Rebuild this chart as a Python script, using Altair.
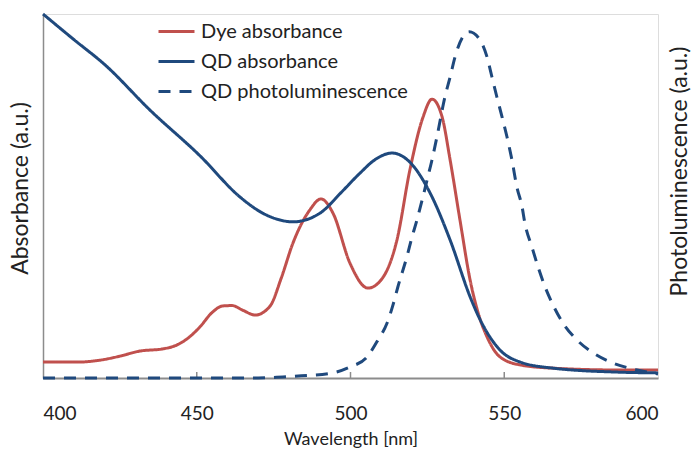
import altair as alt
import pandas as pd

# Wavelength grid and values (normalised arbitrary units)
wl_dye = [400, 412, 418.5, 425, 431.5, 439, 443.6, 447.5, 451, 455, 458.5, 461.5, 465, 469, 473.8,
          477.5, 481.3, 486.8, 490.4, 494.3, 499.8, 505.7, 510.6, 515.1, 519.3, 523.6, 526.5,
          529.8, 532.4, 535.6, 538.9, 541.5, 544.4, 548.6, 555.1, 565.9, 587.6, 600]
dye = [0.044, 0.044, 0.049, 0.060, 0.074, 0.080, 0.091, 0.112, 0.140, 0.180, 0.198, 0.199, 0.186, 0.173, 0.197,
       0.275, 0.371, 0.462, 0.492, 0.453, 0.316, 0.247, 0.277, 0.379, 0.571, 0.717, 0.766,
       0.717, 0.599, 0.434, 0.269, 0.179, 0.113, 0.058, 0.036, 0.027, 0.022, 0.022]

wl_qd = [400, 410, 420.2, 434.8, 451.1, 464.1, 471, 477.1, 481.3, 490.1, 497, 503.1, 508, 513.5,
         519.3, 525.9, 532.4, 538.9, 541.1, 548.6, 555.1, 565.9, 587.6, 600]
qd = [1.0, 0.93, 0.86, 0.736, 0.61, 0.497, 0.455, 0.434, 0.429, 0.453, 0.51, 0.563, 0.60, 0.618,
      0.593, 0.508, 0.379, 0.223, 0.179, 0.077, 0.044, 0.027, 0.016, 0.014]

wl_pl = [400, 470, 478, 484, 494.3, 499.8, 505.4, 508.9, 511.9, 513.8, 515.4, 518.4, 520, 521.6,
         523.3, 524.9, 526.5, 528.1, 530.7, 532.4, 534, 536.3, 538.6, 542.1, 544.4, 546, 547.6,
         549.3, 550.9, 552.5, 554.1, 555.8, 556.7, 559, 561, 563.3, 565.9, 569.1, 573.7, 578.9,
         585.4, 593.2, 600]
pl = [0, 0, 0.003, 0.006, 0.014, 0.030, 0.058, 0.104, 0.151, 0.200, 0.250, 0.335, 0.387, 0.434,
      0.489, 0.544, 0.599, 0.662, 0.772, 0.827, 0.882, 0.934, 0.951, 0.929, 0.882, 0.827, 0.772,
      0.717, 0.662, 0.599, 0.525, 0.470, 0.426, 0.360, 0.305, 0.250, 0.200, 0.151, 0.104, 0.069,
      0.041, 0.022, 0.011]

series = ["Dye absorbance", "QD absorbance", "QD photoluminescence"]
colors = ["#C0504D", "#1F497D", "#1F497D"]
dashes = [[1, 0], [1, 0], [12, 9]]
x_ticks = [400, 450, 500, 550, 600]
inner_ticks = [450, 500, 550]

abs_df = pd.DataFrame(
    [{"wl": w, "v": v, "s": series[0]} for w, v in zip(wl_dye, dye)]
    + [{"wl": w, "v": v, "s": series[1]} for w, v in zip(wl_qd, qd)]
)
pl_df = pd.DataFrame([{"wl": w, "v": v, "s": series[2]} for w, v in zip(wl_pl, pl)])
tick_df = pd.DataFrame({"wl": inner_ticks})

FONT = "Lato"
GRAY = "#8c8c8c"
TXT = "#222222"

legend = alt.Legend(
    title=None, orient="none", legendX=114, legendY=-2,
    symbolType="stroke", symbolSize=1296, symbolStrokeWidth=3,
    labelFont=FONT, labelFontSize=20, labelColor=TXT, labelOffset=5, labelLimit=0,
    rowPadding=-8.5, padding=0,
)

xscale = alt.Scale(domain=[400, 600], nice=False, zero=False)
xenc = alt.X(
    "wl:Q",
    scale=xscale,
    axis=alt.Axis(
        values=x_ticks, ticks=False, grid=False, format="d",
        domainColor=GRAY, domainWidth=2,
        labelFont=FONT, labelFontSize=19, labelColor=TXT, labelPadding=26,
        title="Wavelength [nm]", titleFont=FONT, titleFontSize=18, titleFontWeight="normal",
        titleColor=TXT, titleBaseline="alphabetic", titleY=66,
    ),
)

color = alt.Color("s:N", scale=alt.Scale(domain=series, range=colors), legend=legend)
dash = alt.StrokeDash("s:N", scale=alt.Scale(domain=series, range=dashes), legend=legend)

abs_layer = alt.Chart(abs_df).mark_line(strokeWidth=3, interpolate="monotone", clip=False).encode(
    x=xenc,
    y=alt.Y("v:Q", scale=alt.Scale(domain=[0, 1], nice=False),
            axis=alt.Axis(labels=False, ticks=False, grid=False, domainColor=GRAY, domainWidth=1.5,
                          title="Absorbance (a.u.)", titleFont=FONT, titleFontSize=23,
                          titleFontWeight="normal", titleColor=TXT, titleAngle=270,
                          titleBaseline="alphabetic", titleX=-16, titleY=174)),
    color=color, strokeDash=dash, order=alt.Order("wl:Q"),
)

pl_layer = alt.Chart(pl_df).mark_line(strokeWidth=3, interpolate="monotone", clip=False).encode(
    x=xenc,
    y=alt.Y("v:Q", scale=alt.Scale(domain=[0, 1], nice=False),
            axis=alt.Axis(orient="right", labels=False, ticks=False, grid=False, domain=False,
                          title="Photoluminescence (a.u.)", titleFont=FONT, titleFontSize=23,
                          titleFontWeight="normal", titleColor=TXT, titleAngle=270,
                          titleBaseline="alphabetic", titleX=28, titleY=157)),
    color=color, strokeDash=dash, order=alt.Order("wl:Q"),
)

tick_layer = alt.Chart(tick_df).mark_rule(color=GRAY, strokeWidth=1.5).encode(
    x=xenc, y=alt.value(358), y2=alt.value(364)
)

chart = (
    alt.layer(tick_layer, abs_layer, pl_layer)
    .resolve_scale(y="independent")
    .properties(width=615, height=364,
                padding={"left": 43, "top": 14, "right": 33, "bottom": 73},
                autosize=alt.AutoSizeParams(type="none"))
    .configure_view(stroke=GRAY, strokeWidth=1.5)
    .configure(background="white")
)

chart.save("out.html", embed_options={"renderer": "svg", "actions": False})
